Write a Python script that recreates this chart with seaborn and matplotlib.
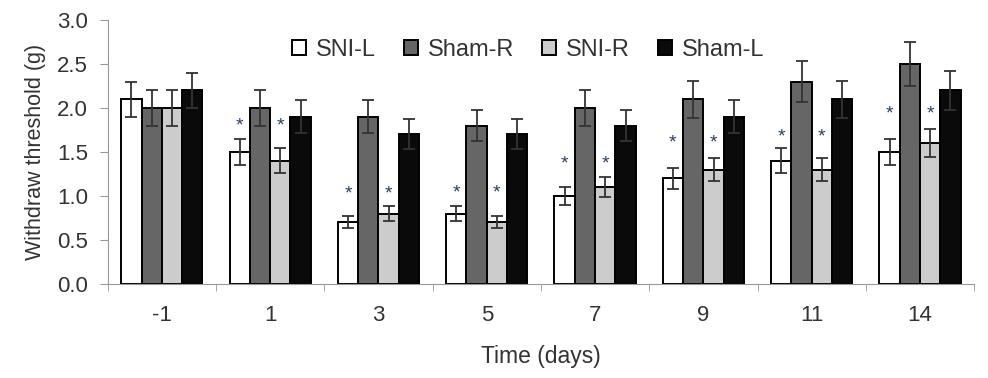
import pandas as pd
import matplotlib
matplotlib.use('Agg')
import matplotlib.pyplot as plt
import seaborn as sns

# Dias e grupos
dias = ['-1', '1', '3', '5', '7', '9', '11', '14']
grupos = ['SNI-L', 'Sham-R', 'SNI-R', 'Sham-L']

# Médias
sni_l = [2.1, 1.5, 0.7, 0.8, 1.0, 1.2, 1.4, 1.5]
sham_r = [2.0, 2.0, 1.9, 1.8, 2.0, 2.1, 2.3, 2.5]
sni_r = [2.0, 1.4, 0.8, 0.7, 1.1, 1.3, 1.3, 1.6]
sham_l = [2.2, 1.9, 1.7, 1.7, 1.8, 1.9, 2.1, 2.2]

# Erros (barras de erro)
err_sni_l = [0.2, 0.15, 0.07, 0.08, 0.1, 0.12, 0.14, 0.15]
err_sham_r = [0.2, 0.2, 0.19, 0.18, 0.2, 0.21, 0.23, 0.25]
err_sni_r = [0.2, 0.14, 0.08, 0.07, 0.11, 0.13, 0.13, 0.16]
err_sham_l = [0.2, 0.19, 0.17, 0.17, 0.18, 0.19, 0.21, 0.22]

# Altura dos asteriscos (*) sobre SNI-L e SNI-R em cada dia
altura_asterisco = [None, 1.80, 1.02, 1.03, 1.36, 1.60, 1.67, 1.93]

cores = ['#ffffff', '#666666', '#cccccc', '#0a0a0a']

medias = [sni_l, sham_r, sni_r, sham_l]
erros = [err_sni_l, err_sham_r, err_sni_r, err_sham_l]
com_asterisco = ['SNI-L', 'SNI-R']

linhas = []
for g, m, e in zip(grupos, medias, erros):
    for d, v, er in zip(dias, m, e):
        linhas.append({'dia': d, 'grupo': g, 'valor': v, 'erro': er})
df = pd.DataFrame(linhas)

sns.set_style('ticks')
plt.rcParams['font.family'] = ['Liberation Sans', 'DejaVu Sans']

fig = plt.figure(figsize=(9.88, 3.78), dpi=100)
ax = fig.add_axes([0.109, 0.249, 0.877, 0.698])

sns.barplot(data=df, x='dia', y='valor', hue='grupo', order=dias, hue_order=grupos,
            palette=cores, errorbar=None, width=0.75, edgecolor='black',
            linewidth=1.4, ax=ax)

# Barras de erro e asteriscos
for i, g in enumerate(grupos):
    cont = ax.containers[i]
    for j, barra in enumerate(cont):
        x = barra.get_x() + barra.get_width() / 2
        ax.errorbar(x, medias[i][j], yerr=erros[i][j], fmt='none', ecolor='#333333',
                    elinewidth=1.3, capsize=4.5, capthick=1.3, zorder=5)
        if g in com_asterisco and altura_asterisco[j] is not None:
            ax.text(x, altura_asterisco[j], '*', ha='center', va='center', fontsize=14,
                    color='#2b3f66', zorder=6)

ax.set_ylim(0, 3.0)
ax.set_yticks([0, 0.5, 1.0, 1.5, 2.0, 2.5, 3.0])
ax.set_yticklabels(['0.0', '0.5', '1.0', '1.5', '2.0', '2.5', '3.0'])
ax.set_xlim(-0.5, 7.5)
ax.set_xticks([i + 0.5 for i in range(-1, 8)], minor=True)
ax.tick_params(axis='x', which='major', length=0, pad=15, labelsize=16, colors='#333333')
ax.tick_params(axis='x', which='minor', length=5, color='#999999')
ax.tick_params(axis='y', length=6, color='#999999', labelsize=16, labelcolor='#333333', pad=8)

for s in ['top', 'right']:
    ax.spines[s].set_visible(False)
ax.spines['left'].set_color('#999999')
ax.spines['bottom'].set_color('#999999')

ax.set_xlabel('Time (days)', fontsize=16.5, color='#333333', labelpad=14)
ax.set_ylabel('Withdraw threshold (g)', fontsize=15.5, color='#333333', labelpad=8)

ax.legend(loc='center', bbox_to_anchor=(0.485, 0.886), ncol=4, frameon=False,
          fontsize=17, handlelength=0.6, handleheight=0.6, handletextpad=0.4,
          columnspacing=1.2, labelcolor='#333333')

plt.savefig('out.png', dpi=100)
